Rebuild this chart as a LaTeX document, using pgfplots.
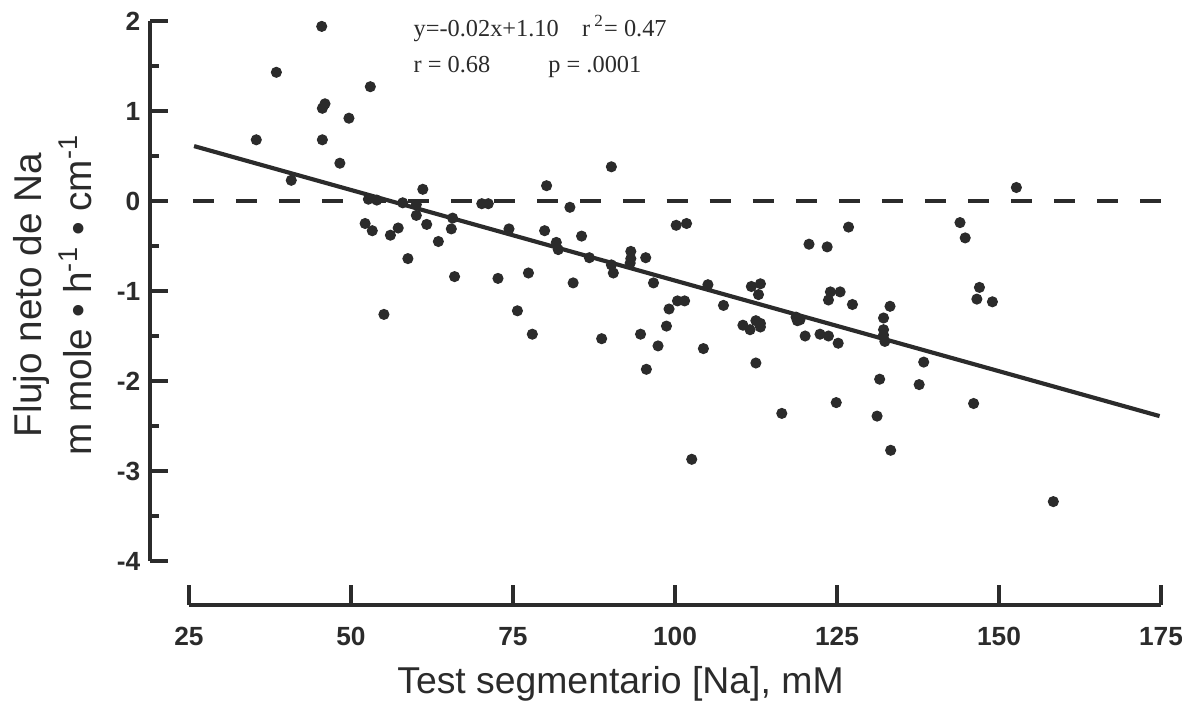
\documentclass[border=0pt]{standalone}
\usepackage{fontspec}
\setmainfont{Liberation Sans}
\newfontfamily\annfont{Liberation Serif}
\usepackage{pgfplots}
\pgfplotsset{compat=1.18}
\definecolor{ink}{HTML}{2B2B2B}

\begin{document}
\begin{tikzpicture}
  \path[use as bounding box] (0,0) rectangle (15.0114cm,9.0043cm);
  % main plot: y axis only
  \begin{axis}[
      at={(1.905cm,1.8796cm)}, anchor=south west,
      scale only axis, width=13.085cm, height=6.858cm,
      xmin=19, xmax=178, ymin=-4, ymax=2,
      axis x line=none, axis y line=left,
      axis line style={-, ink, line width=1.1pt},
      every tick/.style={ink, line width=1.1pt},
      tick align=inside,
      major tick length=0.229cm, minor tick length=0.114cm,
      ytick={-4,-3,-2,-1,0,1,2},
      yticklabels={-4,-3,-2,-1,0,1,2},
      minor y tick num=1,
      yticklabel style={font=\fontsize{9.5}{11}\selectfont\bfseries, text=ink},
      clip=false,
    ]
    \addplot[ink, line width=1.4pt, dash pattern=on 0.267cm off 0.28cm]
      coordinates {(25.6,0) (177.2,0)};
    \addplot[ink, line width=1.5pt] coordinates {(25.8,0.61) (174.8,-2.39)};
    \addplot[only marks, mark=*, mark size=1.8pt, ink, mark options={fill=ink}]
      table {
        x y
        45.5 1.94
        38.5 1.43
        53.0 1.27
        46.0 1.08
        45.6 1.03
        49.7 0.92
        35.4 0.68
        45.6 0.68
        48.3 0.42
        40.8 0.23
        61.1 0.13
        80.2 0.17
        52.7 0.02
        54.0 0.01
        58.0 -0.02
        60.1 -0.04
        70.2 -0.03
        71.2 -0.03
        83.8 -0.07
        60.1 -0.16
        61.7 -0.26
        65.7 -0.19
        65.5 -0.31
        52.2 -0.25
        53.3 -0.33
        56.1 -0.38
        57.3 -0.30
        63.5 -0.45
        74.4 -0.31
        79.9 -0.33
        81.7 -0.46
        82.0 -0.54
        58.8 -0.64
        66.0 -0.84
        72.7 -0.86
        77.4 -0.80
        84.3 -0.91
        85.6 -0.39
        55.1 -1.26
        90.2 0.38
        86.8 -0.63
        90.2 -0.71
        90.5 -0.80
        93.2 -0.56
        93.2 -0.64
        93.1 -0.69
        95.5 -0.63
        100.2 -0.27
        101.8 -0.25
        96.7 -0.91
        75.7 -1.22
        78.0 -1.48
        88.7 -1.53
        94.7 -1.48
        97.4 -1.61
        95.6 -1.87
        98.7 -1.39
        99.1 -1.20
        100.4 -1.11
        101.5 -1.11
        105.1 -0.93
        107.5 -1.16
        104.4 -1.64
        102.6 -2.87
        111.8 -0.95
        113.2 -0.92
        112.9 -1.04
        110.5 -1.38
        111.6 -1.43
        112.5 -1.33
        113.2 -1.40
        113.2 -1.36
        112.5 -1.80
        116.5 -2.36
        118.7 -1.29
        119.3 -1.32
        118.9 -1.33
        120.1 -1.50
        120.7 -0.48
        123.5 -0.51
        122.4 -1.48
        123.7 -1.50
        123.7 -1.10
        124.0 -1.01
        125.5 -1.01
        125.2 -1.58
        124.9 -2.24
        152.7 0.15
        126.8 -0.29
        144.0 -0.24
        144.8 -0.41
        127.4 -1.15
        133.2 -1.17
        132.2 -1.30
        132.2 -1.43
        132.2 -1.49
        132.4 -1.56
        147.0 -0.96
        146.6 -1.09
        149.0 -1.12
        138.4 -1.79
        131.6 -1.98
        137.7 -2.04
        131.2 -2.39
        146.1 -2.25
        133.3 -2.77
        158.4 -3.34
      };
    \node[anchor=base west, inner sep=0, font=\annfont\fontsize{8.8}{10}\selectfont, text=ink]
      at (axis cs:59.6,1.826) {y=-0.02x+1.10};
    \node[anchor=base west, inner sep=0, font=\annfont\fontsize{8.8}{10}\selectfont, text=ink]
      at (axis cs:85.6,1.826) {r\,\textsuperscript{2}= 0.47};
    \node[anchor=base west, inner sep=0, font=\annfont\fontsize{8.8}{10}\selectfont, text=ink]
      at (axis cs:59.6,1.426) {r = 0.68};
    \node[anchor=base west, inner sep=0, font=\annfont\fontsize{8.8}{10}\selectfont, text=ink]
      at (axis cs:80.4,1.426) {p = .0001};
  \end{axis}

  % detached x axis
  \begin{axis}[
      at={(2.4003cm,1.3208cm)}, anchor=south west,
      scale only axis, width=12.3444cm, height=1cm,
      xmin=25, xmax=175, ymin=0, ymax=1,
      axis x line=bottom, axis y line=none,
      axis line style={-, ink, line width=1.1pt},
      every tick/.style={ink, line width=1.1pt},
      tick align=inside, major tick length=0.254cm,
      xtick={25,50,75,100,125,150,175},
      xticklabels={25,50,75,100,125,150,175},
      xticklabel style={font=\fontsize{9.5}{11}\selectfont\bfseries, text=ink, yshift=-0.16cm},
      ytick=\empty,
    ]
  \end{axis}

  \node[anchor=base, inner sep=0, font=\fontsize{13.5}{16}\selectfont, text=ink]
    at (7.88cm,0.2cm) {Test segmentario [Na], mM};
  \node[anchor=base, rotate=90, inner sep=0, font=\fontsize{14}{17}\selectfont, text=ink]
    at (0.533cm,5.258cm) {Flujo neto de Na};
  \node[anchor=base, rotate=90, inner sep=0, font=\fontsize{14}{17}\selectfont, text=ink]
    at (1.168cm,5.258cm) {m mole • h\textsuperscript{-1} • cm\textsuperscript{-1}};
\end{tikzpicture}
\end{document}
